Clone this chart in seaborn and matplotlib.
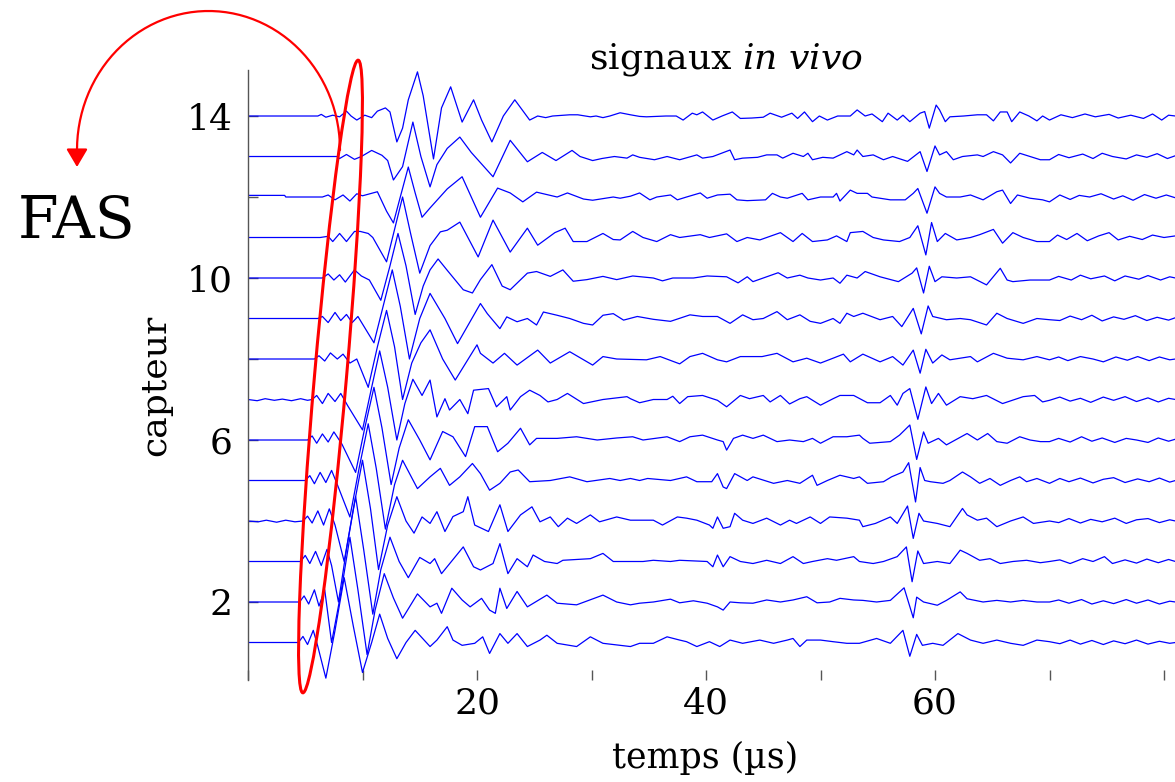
import numpy as np
import pandas as pd
import seaborn as sns
import matplotlib.pyplot as plt
from matplotlib.patches import Ellipse, FancyArrowPatch, ArrowStyle
from matplotlib.path import Path
from matplotlib.transforms import IdentityTransform

# key points of each trace: (time in us, amplitude in trace units)
cap01 = [(0, 0), (4.4, 0), (4.8, 0.15), (5.2, -0.05), (5.7, 0.3), (6.1, -0.1), (6.8, -0.88), (7.6, 0.3), (8.4, 1.6), (9.2, 0.4), (10.0, -0.74), (10.8, 0.0), (11.5, 0.7), (12.2, 0.1), (13.0, -0.4), (13.8, 0.0), (14.6, 0.3), (15.9, -0.1), (16.5, 0.06), (17.4, 0.39), (17.9, 0.06), (18.7, -0.07), (19.8, -0.02), (20.5, 0.14), (21.1, -0.27), (22.0, 0.22), (22.7, -0.02), (23.5, 0.22), (24.4, -0.1), (25.5, 0.06), (26.1, 0.18), (27.0, -0.02), (28.7, -0.1), (29.9, 0.14), (31.0, -0.02), (33.4, -0.1), (34.2, -0.02), (35.4, -0.02), (36.6, 0.14), (37.7, 0.06), (38.3, 0.02), (39.2, -0.1), (40.3, 0.02), (41.2, -0.1), (42.1, 0.06), (43.2, -0.02), (44.7, 0.06), (45.9, -0.02), (47.1, 0.06), (47.6, 0.1), (48.2, -0.1), (48.8, 0.06), (50.0, 0.06), (51.1, 0.02), (52.3, -0.02), (53.4, -0.02), (54.9, 0.1), (56.1, -0.02), (57.2, 0.3), (57.8, -0.34), (58.4, 0.2), (58.9, -0.07), (59.8, -0.02), (60.7, -0.07), (62.0, 0.22), (63.1, 0.06), (64.2, -0.02), (65.4, 0.06), (66.6, -0.02), (67.7, -0.07), (68.9, 0.06), (70.0, 0.02), (70.9, -0.03), (71.8, 0.06), (72.7, -0.04), (73.7, 0.05), (74.7, -0.05), (75.6, 0.04), (76.6, -0.03), (77.6, 0.06), (78.6, -0.04), (79.6, 0.03), (80.5, -0.02), (81.0, 0.0)]
cap02 = [(0, 0), (4.5, 0), (4.9, 0.15), (5.3, -0.05), (5.8, 0.3), (6.2, -0.1), (6.7, 0.3), (7.3, -1.0), (8.1, 0.2), (8.9, 1.6), (9.6, 0.3), (10.4, -1.3), (11.1, -0.2), (11.9, 0.7), (12.7, 0.1), (13.5, -0.4), (14.8, 0.2), (15.9, -0.12), (16.5, -0.03), (16.9, -0.28), (17.8, 0.34), (18.7, 0.05), (19.4, -0.12), (20.4, 0.09), (21.1, -0.2), (21.6, -0.28), (22.0, 0.34), (22.6, -0.16), (23.5, 0.26), (24.4, -0.12), (26.1, 0.17), (27.0, -0.03), (28.7, -0.07), (31.0, 0.17), (32.2, 0.0), (33.4, -0.07), (34.2, -0.03), (35.4, 0.0), (36.9, 0.07), (37.7, -0.02), (38.9, 0.03), (40.1, -0.03), (41.0, -0.12), (41.5, -0.2), (42.1, 0.0), (43.0, -0.02), (44.1, -0.03), (45.3, 0.05), (46.5, 0.0), (47.6, 0.05), (48.8, 0.13), (49.7, -0.02), (50.8, 0.0), (51.7, 0.09), (52.9, 0.05), (53.7, 0.04), (54.9, 0.0), (56.1, 0.04), (57.3, 0.35), (58.1, -0.39), (58.4, 0.12), (59.0, 0.0), (60.2, -0.08), (61.0, 0.04), (62.2, 0.25), (62.8, 0.08), (64.2, 0.0), (65.4, 0.04), (66.6, 0.0), (67.7, 0.04), (68.9, 0.0), (70.0, 0.0), (70.8, 0.05), (71.7, -0.03), (72.8, 0.06), (73.7, -0.05), (74.7, 0.03), (75.6, -0.04), (76.7, 0.06), (77.6, -0.03), (78.6, 0.05), (79.6, -0.05), (80.5, 0.02), (81.0, 0.0)]
cap03 = [(0, 0), (4.6, 0), (5.0, 0.15), (5.4, -0.05), (5.9, 0.25), (6.4, -0.1), (6.9, 0.3), (7.3, -0.1), (7.9, -1.0), (8.6, 0.3), (9.4, 1.6), (10.1, 0.3), (10.9, -1.3), (11.6, -0.2), (12.4, 0.6), (13.2, 0.0), (14.0, -0.4), (15.0, 0.1), (15.9, -0.05), (16.3, 0.07), (16.9, -0.3), (18.8, 0.36), (19.7, -0.13), (20.3, -0.21), (21.4, -0.05), (22.0, 0.44), (22.7, -0.3), (23.5, 0.07), (24.4, -0.13), (24.9, 0.16), (25.9, 0.0), (27.0, -0.05), (27.5, 0.03), (29.9, 0.07), (31.0, 0.2), (31.9, 0.0), (33.4, 0.0), (34.5, 0.0), (35.4, 0.03), (36.9, 0.0), (37.7, 0.03), (40.1, 0.0), (40.6, -0.13), (41.0, 0.16), (41.5, -0.13), (42.1, 0.12), (43.0, 0.0), (44.1, -0.05), (45.3, 0.03), (46.5, -0.05), (47.6, 0.12), (48.5, -0.05), (49.3, 0.0), (50.6, 0.07), (51.4, 0.03), (52.9, 0.12), (53.4, 0.0), (54.6, -0.05), (55.5, 0.0), (56.7, 0.12), (57.5, 0.36), (58.0, -0.5), (58.5, 0.26), (59.0, -0.05), (60.2, 0.0), (61.3, -0.05), (62.2, 0.28), (62.8, 0.2), (63.9, 0.03), (64.8, 0.07), (65.7, -0.05), (66.8, 0.0), (68.0, 0.03), (69.2, -0.03), (70.0, 0.0), (70.9, 0.04), (71.8, -0.05), (72.9, 0.07), (73.8, 0.0), (74.8, 0.12), (75.5, -0.05), (76.6, 0.04), (77.6, -0.04), (78.5, 0.06), (79.5, -0.03), (80.4, 0.05), (81.0, 0.0)]
cap04 = [(0, 0), (0.9, -0.02), (1.6, 0.02), (2.5, -0.03), (3.3, 0.02), (4.1, -0.02), (4.8, 0), (5.2, 0.12), (5.6, -0.05), (6.1, 0.25), (6.6, -0.1), (7.1, 0.3), (7.6, -0.1), (8.4, -1.0), (9.2, 0.3), (10.0, 1.5), (10.7, 0.3), (11.4, -1.2), (12.2, -0.1), (13.0, 0.6), (13.8, 0.0), (14.5, -0.3), (15.2, 0.1), (15.9, -0.06), (16.5, 0.23), (17.2, -0.26), (17.9, 0.11), (18.8, 0.23), (19.2, 0.6), (19.8, -0.1), (21.0, -0.26), (22.0, 0.4), (22.7, -0.26), (23.8, 0.15), (24.8, 0.35), (25.5, -0.02), (26.4, 0.1), (27.1, -0.14), (27.9, 0.07), (28.7, -0.06), (29.9, 0.15), (30.7, -0.02), (32.2, 0.1), (33.4, 0.02), (34.5, 0.02), (35.4, 0.02), (36.2, -0.1), (37.5, 0.1), (38.3, 0.07), (39.2, 0.02), (40.3, -0.1), (40.6, -0.18), (41.0, 0.1), (41.5, -0.18), (42.1, -0.14), (42.5, 0.19), (43.2, 0.02), (44.1, -0.06), (45.3, 0.07), (46.5, -0.1), (47.3, 0.02), (47.9, -0.06), (49.1, 0.1), (50.0, -0.06), (50.8, 0.1), (52.3, 0.07), (53.4, 0.02), (53.7, -0.14), (54.8, -0.06), (56.1, 0.1), (56.7, -0.06), (57.6, 0.37), (58.1, -0.43), (58.6, 0.19), (59.0, 0.0), (60.2, -0.06), (61.3, -0.14), (62.4, 0.31), (62.8, 0.15), (63.7, 0.02), (64.5, 0.07), (65.4, -0.14), (66.6, 0.0), (67.7, 0.1), (68.6, -0.06), (70.0, 0.0), (70.8, -0.04), (71.7, 0.06), (72.7, -0.05), (73.6, 0.04), (74.6, -0.02), (75.7, 0.07), (76.7, -0.06), (77.6, 0.03), (78.6, 0.06), (79.6, -0.04), (80.5, 0.03), (81.0, 0.0)]
cap05 = [(0, 0), (5.0, 0), (5.4, 0.12), (5.8, -0.08), (6.3, 0.2), (6.8, -0.05), (7.3, 0.25), (7.8, -0.1), (8.9, -0.9), (9.7, 0.3), (10.5, 1.4), (11.2, 0.3), (12.0, -1.2), (12.8, -0.1), (13.5, 0.5), (14.8, -0.2), (15.9, 0.09), (16.8, 0.3), (17.6, -0.12), (18.5, 0.09), (19.6, 0.42), (20.3, 0.17), (21.1, -0.24), (22.0, -0.07), (22.9, 0.21), (23.6, 0.26), (24.6, -0.03), (26.4, 0.0), (28.1, 0.09), (29.6, -0.03), (31.6, 0.05), (32.5, 0.0), (33.4, 0.05), (34.2, 0.0), (34.9, 0.05), (36.9, 0.0), (38.3, 0.09), (39.2, -0.03), (40.5, -0.03), (41.0, 0.17), (41.5, -0.16), (41.8, -0.2), (42.5, 0.17), (43.6, 0.0), (44.1, 0.09), (45.9, -0.07), (47.1, 0.0), (48.2, -0.07), (49.3, 0.13), (49.7, -0.12), (50.6, 0.0), (51.7, 0.13), (52.9, 0.05), (53.4, 0.09), (54.1, -0.07), (55.5, -0.03), (56.2, 0.09), (57.2, 0.21), (57.7, 0.44), (58.3, -0.53), (58.7, 0.32), (59.1, 0.0), (59.6, -0.03), (60.7, -0.07), (61.3, 0.0), (62.4, 0.21), (63.1, 0.09), (63.9, -0.07), (64.8, 0.05), (65.7, -0.12), (66.6, 0.0), (67.4, 0.09), (68.0, -0.03), (68.9, 0.05), (70.0, -0.07), (70.9, 0.05), (71.7, -0.03), (72.7, 0.06), (73.8, -0.06), (74.7, 0.03), (75.6, 0.07), (76.6, -0.05), (77.7, 0.04), (78.7, -0.03), (79.6, 0.06), (80.5, -0.04), (81.0, 0.0)]
cap06 = [(0, 0), (5.2, 0), (5.6, 0.1), (6.0, -0.08), (6.5, 0.15), (7.0, -0.05), (7.5, 0.2), (8.2, -0.1), (9.4, -0.8), (10.2, 0.3), (11.0, 1.3), (11.7, 0.3), (12.5, -1.1), (13.2, -0.2), (14.0, 0.5), (15.0, 0.0), (15.9, -0.49), (17.0, 0.21), (17.9, 0.08), (19.0, -0.41), (19.8, 0.33), (20.9, 0.33), (21.8, -0.29), (22.7, -0.08), (23.8, 0.29), (24.6, -0.12), (25.2, 0.04), (27.0, 0.04), (28.7, 0.08), (30.5, 0.0), (32.2, 0.05), (33.6, 0.08), (34.5, 0.0), (36.6, 0.08), (37.7, -0.04), (38.6, 0.08), (39.7, 0.12), (41.0, 0.0), (41.5, -0.04), (41.8, -0.25), (42.4, 0.04), (43.2, 0.12), (44.1, 0.04), (45.0, 0.12), (46.2, -0.04), (47.3, 0.0), (48.5, -0.04), (49.3, 0.04), (50.0, -0.08), (51.1, 0.08), (52.3, 0.08), (53.4, 0.12), (53.7, 0.04), (54.3, -0.08), (56.1, -0.04), (56.9, 0.12), (57.8, 0.37), (58.4, -0.48), (59.0, 0.2), (59.4, -0.08), (60.3, 0.04), (61.0, -0.12), (62.8, 0.16), (63.7, 0.0), (64.6, 0.16), (65.4, -0.04), (66.3, -0.08), (67.4, 0.08), (68.3, 0.0), (69.2, -0.04), (70.0, -0.04), (70.8, 0.04), (71.8, -0.05), (72.8, 0.08), (73.7, -0.03), (74.6, 0.05), (75.7, -0.06), (76.7, 0.04), (77.6, 0.0), (78.6, -0.06), (79.5, 0.05), (80.4, -0.03), (81.0, 0.02)]
cap07 = [(0, 0), (0.8, -0.03), (1.5, 0.02), (2.3, -0.02), (3.0, 0.01), (3.8, -0.03), (4.6, 0.02), (5.2, -0.02), (5.6, 0.0), (6.0, 0.1), (6.5, -0.1), (7.0, 0.15), (7.6, -0.05), (8.1, 0.15), (8.7, -0.15), (10.0, -0.75), (10.8, 0.3), (11.5, 1.2), (12.2, 0.3), (13.0, -1.0), (13.7, -0.1), (14.4, 0.5), (15.2, 0.1), (15.9, 0.48), (16.5, -0.43), (17.2, 0.02), (17.6, -0.26), (18.5, 0.0), (19.2, -0.35), (19.7, 0.23), (21.0, 0.27), (21.7, -0.18), (22.6, 0.07), (22.9, -0.26), (23.8, 0.07), (24.6, 0.23), (25.5, 0.1), (26.2, -0.06), (27.0, 0.0), (27.9, 0.15), (29.3, -0.1), (31.0, 0.0), (33.1, 0.07), (33.4, 0.02), (34.2, -0.08), (35.4, 0.0), (36.6, 0.0), (37.1, 0.08), (37.7, -0.1), (38.4, 0.07), (39.7, 0.1), (41.0, -0.02), (41.8, -0.18), (43.0, 0.1), (43.8, 0.02), (45.0, 0.1), (45.6, -0.06), (46.5, 0.1), (47.3, -0.11), (48.2, 0.02), (48.8, 0.07), (50.0, -0.14), (51.1, 0.02), (51.7, 0.1), (52.9, 0.1), (54.1, -0.08), (55.2, -0.08), (56.1, 0.1), (56.7, -0.14), (57.2, 0.15), (57.8, 0.27), (58.5, -0.49), (59.2, 0.31), (59.7, -0.1), (60.3, 0.15), (61.0, -0.14), (62.2, 0.07), (63.3, 0.02), (64.5, 0.1), (65.9, -0.1), (67.7, 0.07), (68.7, 0.1), (69.4, -0.06), (70.0, -0.02), (70.9, 0.06), (71.8, -0.04), (72.7, 0.03), (73.6, -0.07), (74.7, 0.06), (75.6, -0.02), (76.6, 0.07), (77.6, -0.05), (78.6, 0.04), (79.5, -0.06), (80.4, 0.03), (81.0, 0.0)]
cap08 = [(0, 0), (5.8, 0), (6.2, 0.08), (6.7, -0.05), (7.2, 0.15), (7.8, 0.0), (8.3, 0.12), (8.9, -0.1), (9.5, 0.0), (10.5, -0.7), (11.3, 0.3), (12.1, 1.2), (12.8, 0.3), (13.5, -1.0), (14.3, -0.1), (15.1, 0.4), (15.9, 0.72), (17.0, 0.0), (18.1, -0.52), (20.0, 0.35), (20.3, 0.14), (21.4, -0.1), (22.4, 0.14), (23.5, -0.15), (25.3, 0.22), (26.4, -0.1), (28.1, 0.18), (30.1, -0.15), (31.0, 0.06), (32.2, 0.0), (34.8, -0.02), (36.0, 0.06), (37.7, -0.12), (38.6, 0.06), (39.7, 0.14), (41.0, -0.02), (41.8, -0.07), (43.0, 0.06), (44.9, 0.06), (46.2, 0.14), (47.6, -0.07), (48.8, 0.02), (50.0, -0.1), (51.1, 0.02), (52.0, 0.12), (52.6, -0.07), (53.7, 0.12), (55.2, -0.07), (56.3, 0.06), (57.2, -0.15), (58.1, 0.22), (58.7, -0.35), (59.2, 0.24), (59.8, -0.1), (60.6, 0.1), (61.3, -0.02), (63.1, 0.06), (63.7, -0.07), (65.1, 0.14), (66.3, 0.02), (67.7, -0.02), (68.9, 0.06), (70.0, -0.02), (70.8, 0.05), (71.6, -0.04), (72.7, 0.06), (73.8, 0.0), (74.7, -0.07), (75.8, 0.05), (76.8, -0.03), (77.7, 0.06), (78.7, -0.04), (79.6, 0.05), (80.5, -0.02), (81.0, 0.0)]
cap09 = [(0, 0), (6.1, 0), (6.5, 0.05), (7.0, -0.1), (7.6, 0.15), (8.1, -0.05), (8.6, 0.1), (9.1, -0.1), (9.6, 0.05), (11.0, -0.6), (11.8, 0.3), (12.6, 1.2), (13.3, 0.3), (14.1, -1.0), (15.0, 0.0), (15.9, 0.62), (17.2, 0.0), (18.3, -0.62), (20.3, 0.37), (20.9, 0.12), (22.0, -0.25), (22.6, 0.04), (23.5, -0.08), (24.4, 0.0), (25.2, -0.16), (25.8, 0.16), (27.0, 0.08), (28.1, 0.0), (29.3, -0.12), (30.1, -0.16), (31.0, 0.08), (31.9, 0.12), (32.8, -0.04), (34.0, 0.05), (35.4, -0.02), (36.9, -0.07), (38.6, 0.09), (39.7, 0.05), (41.0, 0.05), (42.1, -0.12), (43.2, 0.09), (44.1, -0.03), (45.0, 0.0), (46.2, 0.17), (47.1, -0.03), (48.2, 0.09), (49.1, -0.07), (50.0, -0.12), (51.1, 0.0), (51.7, -0.12), (52.3, 0.13), (52.9, 0.05), (53.7, 0.13), (55.2, -0.03), (56.3, 0.05), (57.1, -0.2), (58.1, 0.25), (58.8, -0.38), (59.4, 0.31), (59.8, 0.05), (61.0, -0.03), (62.2, 0.0), (63.1, -0.03), (64.5, -0.16), (65.4, 0.13), (66.3, 0.0), (67.7, -0.12), (68.9, 0.0), (70.0, -0.03), (70.9, -0.05), (71.8, 0.06), (72.8, -0.03), (73.7, 0.08), (74.6, -0.06), (75.6, 0.04), (76.5, -0.02), (77.5, 0.07), (78.5, -0.05), (79.4, 0.03), (80.4, -0.04), (81.0, 0.02)]
cap10 = [(0, 0), (6.5, 0), (7.0, 0.1), (7.5, -0.05), (8.0, 0.08), (8.5, -0.1), (9.3, 0.2), (9.9, 0.05), (10.6, -0.05), (11.6, -0.55), (12.4, 0.3), (13.1, 1.1), (13.8, 0.3), (14.6, -0.9), (15.3, -0.2), (15.9, 0.2), (16.6, 0.47), (17.4, 0.19), (18.8, -0.29), (19.6, -0.37), (20.3, -0.04), (21.3, 0.33), (22.2, -0.2), (22.9, -0.29), (24.4, 0.12), (25.2, 0.16), (26.4, 0.04), (27.5, 0.2), (28.4, -0.08), (29.6, -0.04), (31.0, 0.04), (32.2, -0.04), (33.6, 0.05), (35.4, 0.0), (36.2, -0.07), (37.1, 0.0), (38.9, 0.0), (40.1, 0.05), (41.8, 0.03), (42.8, -0.12), (43.6, 0.03), (44.1, -0.09), (45.3, 0.03), (46.3, 0.13), (47.1, 0.0), (48.2, 0.07), (48.9, 0.0), (50.0, -0.05), (51.1, 0.0), (51.7, -0.13), (52.3, 0.07), (53.2, 0.0), (53.9, 0.16), (55.2, 0.03), (56.8, -0.09), (58.0, 0.12), (58.4, 0.25), (59.0, -0.37), (59.5, 0.29), (60.0, -0.09), (60.6, 0.03), (61.9, 0.0), (63.1, 0.03), (64.5, -0.17), (65.7, 0.24), (66.3, -0.05), (66.8, -0.09), (68.3, -0.05), (70.0, -0.05), (70.8, 0.04), (71.9, -0.05), (72.7, 0.07), (73.6, -0.02), (74.8, 0.05), (75.7, -0.07), (76.6, 0.05), (77.8, -0.03), (78.6, 0.06), (79.7, -0.05), (80.5, 0.03), (81.0, 0.0)]
cap11 = [(0, 0), (6.3, 0), (7.0, 0.03), (7.4, -0.1), (8.0, 0.1), (8.6, -0.1), (9.3, 0.15), (9.8, 0.15), (10.5, 0.1), (10.9, 0.0), (12.1, -0.6), (12.8, 0.2), (13.5, 1.0), (14.2, 0.1), (15.0, -0.88), (15.9, -0.2), (16.8, 0.14), (17.4, 0.18), (18.5, 0.38), (20.1, -0.48), (21.4, 0.43), (22.9, -0.36), (24.4, 0.23), (25.3, -0.19), (26.8, 0.12), (27.7, 0.23), (28.4, -0.1), (29.6, -0.1), (31.0, 0.1), (31.9, -0.05), (32.5, -0.06), (33.6, 0.15), (34.5, 0.0), (35.7, -0.1), (36.9, 0.07), (37.7, 0.0), (39.5, 0.07), (40.3, 0.0), (41.8, 0.09), (42.7, -0.1), (43.6, 0.0), (44.7, -0.06), (46.5, 0.12), (47.6, -0.1), (48.4, 0.1), (49.3, -0.1), (50.6, -0.06), (51.4, 0.04), (52.3, -0.1), (52.6, 0.12), (53.7, 0.15), (54.6, 0.0), (55.5, -0.06), (56.9, -0.1), (57.8, 0.0), (58.5, 0.29), (59.2, -0.43), (59.7, 0.37), (60.2, -0.1), (60.9, 0.1), (61.9, -0.06), (63.1, 0.0), (63.9, 0.07), (65.1, 0.2), (65.9, -0.14), (66.8, 0.12), (67.7, 0.0), (68.9, -0.1), (70.0, -0.1), (70.7, 0.06), (71.5, -0.05), (72.4, 0.1), (73.3, -0.08), (74.3, 0.04), (75.2, 0.12), (76.0, -0.06), (77.0, 0.03), (78.1, -0.05), (79.0, 0.06), (80.0, 0.0), (81.0, 0.04)]
cap12 = [(0, 0.04), (3.2, 0.04), (3.3, 0), (6.5, 0), (7.0, 0.05), (7.6, -0.07), (8.3, 0.05), (8.9, -0.1), (9.5, 0.08), (10.0, 0.03), (11.3, 0.13), (12.1, -0.35), (12.7, -0.64), (13.3, 0.0), (14.0, 0.74), (14.6, 0.1), (15.2, -0.5), (15.9, -0.27), (17.4, 0.2), (18.7, 0.5), (20.3, -0.5), (21.8, 0.22), (22.9, 0.1), (24.0, -0.12), (25.2, 0.12), (27.0, 0.0), (27.9, 0.1), (29.3, -0.05), (30.1, -0.08), (31.9, 0.0), (32.5, -0.03), (33.4, 0.02), (34.2, 0.1), (35.1, -0.07), (35.7, 0.0), (36.9, 0.05), (37.5, -0.07), (38.3, 0.0), (39.5, 0.1), (40.1, -0.03), (41.0, 0.05), (42.1, 0.07), (42.7, -0.07), (43.6, -0.09), (45.2, -0.07), (45.8, 0.09), (46.5, 0.0), (47.1, -0.03), (48.4, 0.09), (48.9, -0.07), (50.0, 0.0), (51.1, 0.0), (51.4, 0.09), (51.7, -0.1), (52.6, 0.17), (53.2, 0.09), (54.1, 0.09), (54.5, 0.0), (56.1, -0.07), (57.4, -0.07), (58.1, 0.09), (58.5, 0.21), (59.3, -0.4), (60.0, 0.25), (60.4, 0.09), (61.0, 0.0), (62.2, 0.0), (63.1, 0.05), (64.2, -0.07), (65.4, 0.13), (65.9, 0.17), (66.6, -0.16), (67.2, 0.05), (68.3, -0.03), (69.4, -0.07), (70.0, -0.12), (70.9, 0.05), (71.8, -0.06), (72.6, 0.04), (73.5, 0.0), (74.5, 0.08), (75.6, -0.05), (76.4, 0.03), (77.3, -0.08), (78.3, 0.06), (79.3, -0.03), (80.2, 0.05), (81.0, -0.02)]
cap13 = [(0, 0), (7.8, 0), (8.0, -0.05), (8.6, 0.05), (9.3, -0.07), (9.9, 0.0), (10.8, 0.15), (11.7, 0.03), (12.2, -0.1), (12.7, -0.58), (13.5, -0.25), (14.4, 0.85), (15.1, 0.0), (15.9, -0.75), (16.5, -0.2), (17.4, 0.2), (18.5, 0.48), (19.5, 0.1), (21.4, -0.5), (22.9, 0.4), (24.4, -0.13), (25.7, 0.1), (26.9, -0.1), (28.3, 0.15), (29.0, 0.0), (30.1, -0.1), (30.9, -0.05), (32.0, 0.0), (33.1, -0.04), (33.6, 0.04), (34.2, -0.02), (35.5, -0.08), (36.6, 0.0), (37.7, -0.08), (39.2, 0.04), (39.7, -0.04), (40.6, 0.0), (42.1, 0.16), (42.5, -0.08), (43.2, -0.04), (44.5, -0.02), (45.3, 0.04), (46.2, 0.04), (46.7, -0.04), (47.6, 0.08), (48.5, 0.0), (48.9, 0.08), (49.3, -0.08), (50.2, -0.02), (51.1, -0.04), (52.3, 0.12), (52.9, 0.04), (53.2, 0.16), (53.7, 0.0), (54.6, 0.04), (55.5, -0.08), (56.3, 0.0), (57.6, -0.12), (58.7, 0.12), (59.3, -0.37), (60.0, 0.26), (60.4, 0.04), (61.0, 0.12), (61.6, -0.08), (62.4, 0.0), (63.7, 0.04), (64.2, 0.0), (65.1, 0.12), (65.9, 0.04), (66.6, -0.16), (67.4, 0.08), (68.3, 0.0), (69.2, -0.08), (70.0, -0.08), (70.8, 0.05), (71.7, -0.03), (72.9, 0.06), (73.8, -0.05), (74.6, 0.08), (75.5, 0.0), (76.7, -0.06), (77.6, 0.04), (78.5, -0.02), (79.4, 0.07), (80.3, -0.05), (81.0, 0.02)]
cap14 = [(0, 0), (6.1, 0), (6.4, 0.04), (6.8, -0.03), (7.4, 0.02), (8.0, -0.02), (8.6, 0.12), (9.0, 0.0), (9.5, -0.1), (10.2, 0.02), (10.8, -0.04), (11.3, 0.12), (12.0, 0.2), (12.4, 0.1), (13.0, -0.64), (13.5, -0.3), (14.0, 0.4), (14.8, 1.09), (15.3, 0.5), (16.2, -1.06), (16.9, 0.2), (17.7, 0.72), (18.7, -0.15), (19.7, 0.4), (20.4, -0.1), (21.3, -0.64), (22.3, 0.0), (23.3, 0.4), (24.6, -0.1), (25.3, 0.0), (26.0, -0.04), (26.6, 0.0), (28.1, 0.03), (28.8, 0.03), (29.9, -0.02), (30.4, 0.0), (31.0, -0.04), (31.6, 0.0), (32.5, 0.08), (33.4, 0.03), (34.2, -0.01), (34.8, -0.02), (36.5, 0.0), (37.4, 0.0), (38.0, -0.1), (38.8, 0.07), (39.2, 0.03), (39.7, 0.1), (40.6, -0.1), (41.4, 0.0), (42.3, 0.1), (43.0, -0.06), (44.0, -0.05), (45.0, -0.03), (45.6, 0.07), (46.6, -0.03), (47.5, 0.07), (48.0, -0.06), (48.6, 0.1), (49.3, -0.14), (49.9, 0.0), (50.6, -0.1), (51.5, 0.0), (52.6, 0.0), (53.2, 0.15), (53.9, 0.0), (54.5, 0.05), (55.4, -0.14), (55.9, 0.07), (56.7, -0.1), (57.2, 0.02), (57.8, -0.14), (58.7, 0.07), (59.1, 0.11), (59.5, -0.3), (60.1, 0.27), (60.4, 0.15), (60.9, -0.14), (61.3, -0.02), (62.5, 0.0), (63.7, 0.03), (64.5, 0.03), (65.1, -0.12), (65.7, 0.1), (66.3, 0.1), (66.7, -0.14), (67.4, 0.1), (68.2, 0.0), (68.9, -0.12), (69.4, 0.0), (70.0, -0.1), (71.0, 0.03), (72.0, -0.04), (73.1, 0.05), (74.0, -0.02), (75.2, 0.04), (76.0, -0.05), (77.1, 0.02), (78.2, -0.06), (79.0, 0.05), (79.8, -0.1), (80.4, 0.02), (81.0, 0.0)]

traces = [cap01, cap02, cap03, cap04, cap05, cap06, cap07,
          cap08, cap09, cap10, cap11, cap12, cap13, cap14]

x_ticks = [0, 10, 20, 30, 40, 50, 60, 70, 80]
x_labels = ["", "", "20", "", "40", "", "60", "", ""]
y_ticks = [2, 4, 6, 8, 10, 12, 14]
y_labels = ["2", "", "6", "", "10", "", "14"]

# long table: one row per key point, trace offset by its sensor number
rows = []
for k, pts in enumerate(traces, start=1):
    for t, a in pts:
        rows.append({"capteur": k, "t": t, "y": k + a})
df = pd.DataFrame(rows)

sns.set_style("white")
plt.rcParams["font.family"] = ["DejaVu Serif"]
plt.rcParams["text.color"] = "black"
plt.rcParams["mathtext.fontset"] = "custom"
plt.rcParams["mathtext.rm"] = "DejaVu Serif"
plt.rcParams["mathtext.it"] = "DejaVu Serif:italic"

W, H = 1175, 782
fig = plt.figure(figsize=(W / 100, H / 100), dpi=100)
ax = fig.add_axes([248 / W, (H - 680) / H, (W - 248) / W, 610 / H])

sns.lineplot(data=df, x="t", y="y", units="capteur", estimator=None, sort=False,
             color="#0000ff", lw=0.9, legend=False, ax=ax)

ax.set_xlim(0, 80.96)
ax.set_ylim(0.074, 15.136)
ax.set_xticks(x_ticks)
ax.set_xticklabels(x_labels)
ax.set_yticks(y_ticks)
ax.set_yticklabels(y_labels)
ax.set_xlabel("")
ax.set_ylabel("")
for s in ["top", "right", "bottom"]:
    ax.spines[s].set_visible(False)
ax.spines["left"].set_color("#555555")
ax.spines["left"].set_linewidth(1.0)
ax.tick_params(bottom=True, left=True, direction="in", length=7, width=1,
               color="#555555", labelsize=26, labelcolor="black")
ax.tick_params(axis="x", pad=4.5)
ax.tick_params(axis="y", pad=11)

fig.text(726 / W, 1 - 68 / H, r"signaux $\mathit{in\ vivo}$", ha="center", va="baseline", fontsize=26)
fig.text(705 / W, 1 - 768 / H, "temps (µs)", ha="center", va="baseline", fontsize=25)
fig.text(155 / W, 1 - 385 / H, "capteur", rotation=90, ha="center", va="center", fontsize=26)
fig.text(18 / W, 1 - 237 / H, "FAS", ha="left", va="baseline", fontsize=42)

# red ellipse around the first arrivals (pixel coordinates)
ell = Ellipse((330.5, H - 376.5), width=635, height=32, angle=85.0,
              fill=False, edgecolor="#ff0000", lw=2.2, transform=IdentityTransform(), zorder=10)
fig.add_artist(ell)

# curved arrow to the FAS label
th = np.linspace(0, np.pi, 60)
arc_x = 208.5 + 131.5 * np.cos(th)
arc_y = H - (150 - 139 * np.sin(th))
verts = np.column_stack([np.append(arc_x, 77), np.append(arc_y, H - 167)])
arrow = FancyArrowPatch(path=Path(verts), arrowstyle=ArrowStyle("-|>", head_length=1.1, head_width=0.65),
                        mutation_scale=10, color="#ff0000", lw=1.6, transform=IdentityTransform(), zorder=10)
fig.add_artist(arrow)

fig.savefig("out.png", dpi=100)
plt.close(fig)
